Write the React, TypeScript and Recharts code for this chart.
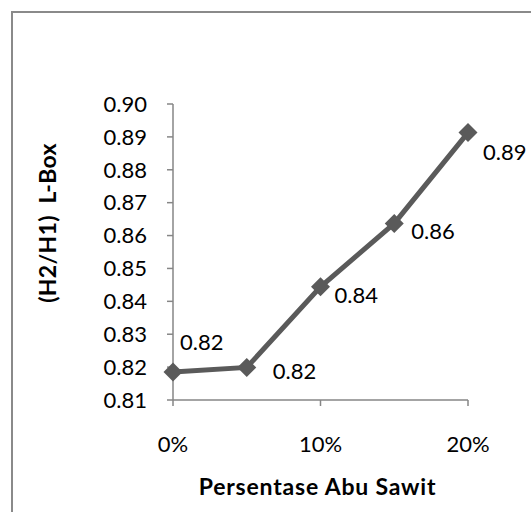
import React from "react";
import { LineChart, Line, XAxis, YAxis, LabelList, Label } from "recharts";

// Persentase abu sawit vs L-Box ratio (H2/H1)
const categories = ["0%", "5%", "10%", "15%", "20%"];
const lboxRatio = [0.8185, 0.8199, 0.8444, 0.8637, 0.8913];
const yTicks = [0.81, 0.82, 0.83, 0.84, 0.85, 0.86, 0.87, 0.88, 0.89, 0.9];

// label nudges (dx to text start, dy to text centre) relative to each point
const labelNudge = [
  [7, -30],
  [26, 4],
  [14, 8],
  [17, 8],
  [15, 19],
];

const FONT = "Lato, 'Open Sans', sans-serif";
const AXIS = "#868686";
const LINE = "#5a5a5a";

const data = categories.map((c, i) => ({ cat: c, v: lboxRatio[i] }));

function Diamond(props: any) {
  const { cx, cy } = props;
  if (cx == null || cy == null) return null;
  const r = 9.5;
  return (
    <path
      d={`M${cx},${cy - r}L${cx + r},${cy}L${cx},${cy + r}L${cx - r},${cy}Z`}
      fill={LINE}
      stroke="none"
    />
  );
}

function PointLabel(props: any) {
  const { x, y, value, index } = props;
  const [dx, dy] = labelNudge[index] ?? [12, 6];
  return (
    <text
      x={x + dx}
      y={y + dy + 8}
      fontSize={22}
      fontFamily={FONT}
      fill="#000"
    >
      {Number(value).toFixed(2)}
    </text>
  );
}

export default function App() {
  return (
    <div
      style={{
        position: "fixed",
        left: 0,
        top: 0,
        width: 531,
        height: 512,
        overflow: "hidden",
        background: "#fff",
      }}
    >
      <div
        style={{
          position: "absolute",
          left: 11,
          top: 11,
          width: 600,
          height: 600,
          border: "2px solid #8a8a8a",
        }}
      />
      <div style={{ position: "absolute", left: 0, top: 0 }}>
        <LineChart
          width={531}
          height={512}
          data={data}
          margin={{ top: 104, right: 63, bottom: 0, left: 0 }}
        >
          <XAxis
            dataKey="cat"
            interval={1}
            height={112}
            axisLine={{ stroke: AXIS, strokeWidth: 1.5 }}
            tickLine={{ stroke: AXIS, strokeWidth: 1.5 }}
            tickSize={6}
            tickMargin={30}
            tick={{ fontSize: 22, fontFamily: FONT, fill: "#000" }}
          >
            <Label
              content={({ viewBox }: any) => (
                <text
                  x={viewBox.x + viewBox.width / 2 - 3}
                  y={viewBox.y + 95}
                  textAnchor="middle"
                  fontSize={23}
                  fontWeight={700}
                  letterSpacing={0.8}
                  fontFamily={FONT}
                  fill="#000"
                >
                  Persentase Abu Sawit
                </text>
              )}
            />
          </XAxis>
          <YAxis
            type="number"
            domain={[0.81, 0.9]}
            ticks={yTicks}
            width={173}
            interval={0}
            axisLine={{ stroke: AXIS, strokeWidth: 1.5 }}
            tickLine={{ stroke: AXIS, strokeWidth: 1.5 }}
            tickSize={6}
            tickMargin={20}
            tickFormatter={(v: number) => v.toFixed(2)}
            tick={{ fontSize: 22, fontFamily: FONT, fill: "#000" }}
          >
            <Label
              content={({ viewBox }: any) => {
                const lx = 56;
                const ly = viewBox.y + viewBox.height / 2 - 29;
                return (
                  <text
                    x={lx}
                    y={ly}
                    transform={`rotate(-90 ${lx} ${ly})`}
                    textAnchor="middle"
                    fontSize={23}
                    fontWeight={700}
                    letterSpacing={0.3}
                    fontFamily={FONT}
                    fill="#000"
                  >
                    {"(H2/H1)\u00A0\u00A0L-Box"}
                  </text>
                );
              }}
            />
          </YAxis>
          <Line
            type="linear"
            dataKey="v"
            stroke={LINE}
            strokeWidth={5}
            dot={<Diamond />}
            activeDot={false}
            isAnimationActive={false}
          >
            <LabelList dataKey="v" content={<PointLabel />} />
          </Line>
        </LineChart>
      </div>
    </div>
  );
}
